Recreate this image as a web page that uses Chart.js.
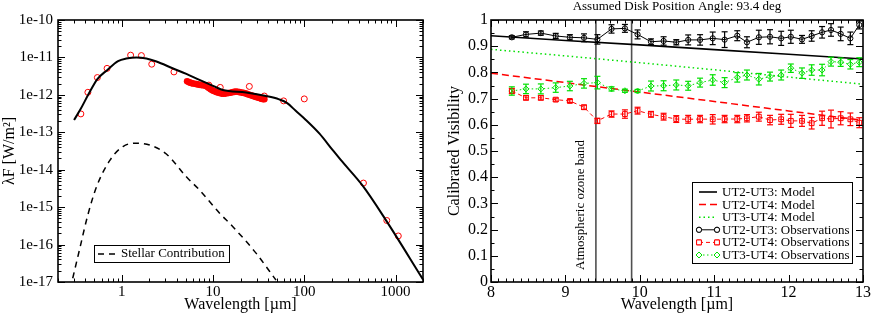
<!DOCTYPE html>
<html><head><meta charset="utf-8">
<script src="https://cdn.jsdelivr.net/npm/chart.js@4.4.1/dist/chart.umd.min.js"></script>
<style>
html,body{margin:0;padding:0;background:#fff;}
#wrap{position:relative;width:872px;height:316px;overflow:hidden;}
canvas{position:absolute;top:0;}
#c1{left:0;} #c2{left:436px;}
</style></head><body>
<div id="wrap"><canvas id="c1" width="436" height="316"></canvas><canvas id="c2" width="436" height="316"></canvas></div>
<script>
// ---------------- LEFT PANEL DATA (SED) ----------------
const sedModelWl   = [0.30, 0.35, 0.43, 0.54, 0.69, 0.91, 1.12, 1.45, 1.86, 2.4, 3.6, 5.1, 7.1, 10, 12.8, 23, 38, 53, 65, 80, 104, 146, 204, 251, 434, 781, 2000];
const sedModelFlux = [2.14e-13, 3.98e-13, 1.02e-12, 2.63e-12, 4.57e-12, 7.94e-12, 9.33e-12, 1.00e-11, 9.33e-12, 7.76e-12, 5.13e-12, 3.63e-12, 2.51e-12, 1.74e-12, 1.35e-12, 1.15e-12, 9.33e-13, 7.59e-13, 6.03e-13, 3.80e-13, 2.14e-13, 9.33e-14, 3.39e-14, 1.82e-14, 3.80e-15, 4.57e-16, 1.17e-17];
const stellarWl    = [0.29, 0.35, 0.42, 0.53, 0.74, 1.03, 1.45, 2.02, 3.08, 5.1, 7.1, 11.8, 16.5, 29.6, 49];
const stellarFlux  = [1.26e-17, 8.7e-17, 5.6e-16, 3.55e-15, 1.78e-14, 4.17e-14, 5.13e-14, 4.57e-14, 2.63e-14, 6.46e-15, 2.88e-15, 6.9e-16, 3.0e-16, 5.9e-17, 1.12e-17];
const photWl       = [0.356, 0.425, 0.54, 0.69, 1.25, 1.64, 2.13, 3.73, 9.0, 12.0, 25, 36.5, 59.4, 100, 445, 802, 1072];
const photFlux     = [3.1e-13, 1.17e-12, 2.9e-12, 5.1e-12, 1.15e-11, 1.12e-11, 6.6e-12, 4.1e-12, 1.82e-12, 1.58e-12, 1.68e-12, 9.3e-13, 6.9e-13, 7.8e-13, 4.4e-15, 4.4e-16, 1.7e-16];
const specWl       = [5.2,5.4,5.6,5.8,6.0,6.3,6.6,6.9,7.2,7.5,7.8,8.1,8.4,8.7,9.0,9.4,9.8,10.2,10.6,11.0,11.5,12.0,12.5,13.0,13.6,14.2,14.8,15.5,16.2,17.0,17.8,18.6,19.5,20.5,21.5,22.5,23.5,24.5,25.5,26.5,27.5,28.5,29.5,30.5,31.5,32.5,33.5,34.5,35.5,36.5];
const specFlux     = [2.30e-12,2.20e-12,2.12e-12,2.06e-12,2.02e-12,1.98e-12,1.93e-12,1.88e-12,1.85e-12,1.82e-12,1.80e-12,1.78e-12,1.72e-12,1.62e-12,1.52e-12,1.42e-12,1.33e-12,1.27e-12,1.22e-12,1.18e-12,1.14e-12,1.10e-12,1.08e-12,1.07e-12,1.08e-12,1.10e-12,1.12e-12,1.14e-12,1.17e-12,1.20e-12,1.22e-12,1.21e-12,1.18e-12,1.15e-12,1.13e-12,1.10e-12,1.06e-12,1.02e-12,0.99e-12,0.96e-12,0.93e-12,0.90e-12,0.88e-12,0.86e-12,0.84e-12,0.82e-12,0.80e-12,0.78e-12,0.77e-12,0.76e-12];
const sedXTicks    = [1, 10, 100, 1000];
const sedYTicks    = [1e-17, 1e-16, 1e-15, 1e-14, 1e-13, 1e-12, 1e-11, 1e-10];

// ---------------- RIGHT PANEL DATA (Visibilities) ----------------
const modelWl   = [8, 9, 10, 11, 12, 13];
const modelUT23 = [0.940, 0.922, 0.905, 0.887, 0.869, 0.851];
const modelUT24 = [0.797, 0.761, 0.725, 0.689, 0.653, 0.617];
const modelUT34 = [0.888, 0.863, 0.837, 0.810, 0.782, 0.755];
const obsWl   = [8.28,8.47,8.67,8.87,9.06,9.25,9.43,9.62,9.80,9.97,10.15,10.32,10.49,10.65,10.81,10.98,11.14,11.31,11.44,11.60,11.75,11.90,12.03,12.18,12.31,12.45,12.57,12.70,12.83,12.95];
const visUT23 = [0.934,0.945,0.950,0.939,0.934,0.932,0.926,0.966,0.968,0.945,0.917,0.920,0.915,0.924,0.924,0.930,0.925,0.940,0.915,0.934,0.936,0.930,0.936,0.926,0.939,0.953,0.962,0.947,0.930,0.981];
const errUT23 = [0.006,0.010,0.008,0.010,0.010,0.015,0.018,0.016,0.015,0.017,0.011,0.016,0.010,0.019,0.020,0.024,0.030,0.019,0.021,0.027,0.027,0.027,0.025,0.015,0.020,0.022,0.024,0.026,0.024,0.015];
const visUT24 = [0.729,0.703,0.703,0.696,0.691,0.667,0.615,0.641,0.641,0.654,0.640,0.631,0.622,0.621,0.622,0.621,0.622,0.622,0.625,0.631,0.618,0.621,0.615,0.615,0.606,0.625,0.622,0.625,0.621,0.608];
const errUT24 = [0.010,0.008,0.008,0.006,0.006,0.008,0.010,0.012,0.016,0.013,0.011,0.013,0.013,0.015,0.014,0.018,0.014,0.014,0.014,0.017,0.018,0.019,0.025,0.021,0.022,0.027,0.034,0.025,0.024,0.019];
const visUT34 = [0.729,0.737,0.737,0.742,0.748,0.758,0.761,0.737,0.730,0.729,0.748,0.749,0.752,0.749,0.761,0.771,0.761,0.781,0.790,0.774,0.784,0.790,0.816,0.797,0.809,0.809,0.841,0.839,0.831,0.839];
const errUT34 = [0.016,0.018,0.019,0.018,0.018,0.018,0.024,0.008,0.006,0.006,0.019,0.019,0.019,0.017,0.017,0.020,0.019,0.018,0.019,0.022,0.017,0.019,0.016,0.020,0.020,0.022,0.017,0.016,0.018,0.017];
const ozoneBand = [9.41, 9.89];
const rightTitle = 'Assumed Disk Position Angle: 93.4 deg';

// ---------------- helpers ----------------
const FONT = "'Liberation Serif', 'Times New Roman', serif";
const zip = (xs, ys) => xs.map((x, i) => ({x, y: ys[i]}));
const GREEN = '#00e000';

function line(ctx, x1, y1, x2, y2) { ctx.beginPath(); ctx.moveTo(x1, y1); ctx.lineTo(x2, y2); ctx.stroke(); }

const frameLogPlugin = {
  id: 'frameLog',
  afterDraw(chart) {
    const {ctx, chartArea: ca, scales} = chart;
    ctx.save();
    ctx.strokeStyle = '#000'; ctx.lineWidth = 1;
    const drawLog = (scale, horiz) => {
      const lo = Math.floor(Math.log10(scale.min) - 1e-9), hi = Math.ceil(Math.log10(scale.max) + 1e-9);
      for (let e = lo; e <= hi; e++) for (let m = 1; m <= 9; m++) {
        const v = m * Math.pow(10, e);
        if (v < scale.min * 0.999 || v > scale.max * 1.001) continue;
        const p = Math.round(scale.getPixelForValue(v)) + 0.5;
        const len = m === 1 ? 7 : 3.5;
        if (horiz) { line(ctx, p, ca.bottom, p, ca.bottom - len); line(ctx, p, ca.top, p, ca.top + len); }
        else { line(ctx, ca.left, p, ca.left + len, p); line(ctx, ca.right, p, ca.right - len, p); }
      }
    };
    drawLog(scales.x, true); drawLog(scales.y, false);
    ctx.lineWidth = 1.6;
    ctx.strokeRect(ca.left, ca.top, ca.right - ca.left, ca.bottom - ca.top);
    // legend
    const lx = 94, ly = 245, lw = 135, lh = 17;
    ctx.fillStyle = '#fff'; ctx.fillRect(lx, ly, lw, lh);
    ctx.lineWidth = 1; ctx.strokeStyle = '#000';
    ctx.strokeRect(lx + 0.5, ly + 0.5, lw, lh);
    const ds = chart.data.datasets[1];
    ctx.lineWidth = ds.borderWidth; ctx.setLineDash(ds.borderDash);
    line(ctx, 98, ly + 9, 118, ly + 9);
    ctx.setLineDash([]);
    ctx.fillStyle = '#000'; ctx.font = '13px ' + FONT; ctx.textBaseline = 'middle'; ctx.textAlign = 'left';
    ctx.fillText(ds.label, 121, ly + 9);
    ctx.restore();
  }
};

const errorBarPlugin = {
  id: 'errBars',
  afterDatasetsDraw(chart) {
    const {ctx, chartArea: ca, scales: {x, y}} = chart;
    ctx.save();
    ctx.beginPath(); ctx.rect(ca.left, ca.top, ca.right - ca.left, ca.bottom - ca.top); ctx.clip();
    chart.data.datasets.forEach(ds => {
      if (!ds.errors) return;
      ctx.strokeStyle = ds.borderColor; ctx.lineWidth = 1.2; ctx.setLineDash([]);
      ds.data.forEach((pt, i) => {
        const px = x.getPixelForValue(pt.x);
        const y1 = y.getPixelForValue(pt.y - ds.errors[i]), y2 = y.getPixelForValue(pt.y + ds.errors[i]);
        line(ctx, px, y1, px, y2);
        line(ctx, px - 3, y1, px + 3, y1);
        line(ctx, px - 3, y2, px + 3, y2);
      });
    });
    ctx.restore();
  }
};

const frameLinPlugin = {
  id: 'frameLin',
  beforeDatasetsDraw(chart) {
    const {ctx, chartArea: ca, scales: {x}} = chart;
    ctx.save();
    ctx.strokeStyle = '#505050'; ctx.lineWidth = 1.6;
    ozoneBand.forEach(v => { const p = x.getPixelForValue(v); line(ctx, p, ca.top, p, ca.bottom); });
    const p0 = x.getPixelForValue(ozoneBand[0]);
    ctx.translate(p0 - 15, ca.bottom - 12);
    ctx.rotate(-Math.PI / 2);
    ctx.fillStyle = '#000'; ctx.font = '13px ' + FONT; ctx.textAlign = 'left'; ctx.textBaseline = 'middle';
    ctx.fillText('Atmospheric ozone band', 0, 0);
    ctx.restore();
  },
  afterDraw(chart) {
    const {ctx, chartArea: ca, scales: {x, y}} = chart;
    ctx.save();
    ctx.strokeStyle = '#000'; ctx.lineWidth = 1;
    for (let k = 0; k <= 50; k++) {
      const v = 8 + k * 0.1; const p = Math.round(x.getPixelForValue(v)) + 0.5;
      const len = k % 10 === 0 ? 7 : 3.5;
      line(ctx, p, ca.bottom, p, ca.bottom - len); line(ctx, p, ca.top, p, ca.top + len);
    }
    for (let k = 0; k <= 20; k++) {
      const v = k * 0.05; const p = Math.round(y.getPixelForValue(v)) + 0.5;
      const len = k % 2 === 0 ? 7 : 3.5;
      line(ctx, ca.left, p, ca.left + len, p); line(ctx, ca.right, p, ca.right - len, p);
    }
    ctx.lineWidth = 1.6;
    ctx.strokeRect(ca.left, ca.top, ca.right - ca.left, ca.bottom - ca.top);
    // title
    ctx.fillStyle = '#000'; ctx.font = '13px ' + FONT; ctx.textAlign = 'center'; ctx.textBaseline = 'middle';
    ctx.fillText(rightTitle, (ca.left + ca.right) / 2, 7);
    // legend
    const lx = 256, ly = 182, lw = 160, lh = 81;
    ctx.fillStyle = '#fff'; ctx.fillRect(lx, ly, lw, lh);
    ctx.lineWidth = 1; ctx.strokeStyle = '#000'; ctx.strokeRect(lx + 0.5, ly + 0.5, lw, lh);
    const order = [0, 1, 2, 3, 4, 5];
    order.forEach((di, r) => {
      const ds = chart.data.datasets[di];
      const cy = ly + 10 + r * 12.6;
      ctx.strokeStyle = ds.borderColor; ctx.lineWidth = ds.borderWidth; ctx.setLineDash(ds.borderDash || []);
      line(ctx, 263, cy, 281, cy);
      ctx.setLineDash([]);
      if (ds.pointRadius > 0) {
        [263, 281].forEach(px => {
          ctx.beginPath();
          ctx.fillStyle = '#fff'; ctx.lineWidth = 1;
          Chart.helpers.drawPoint(ctx, {pointStyle: ds.pointStyle, radius: ds.pointRadius, borderWidth: 1}, px, cy);
          ctx.fill(); ctx.stroke();
        });
      }
      ctx.fillStyle = '#000'; ctx.font = '13px ' + FONT; ctx.textAlign = 'left'; ctx.textBaseline = 'middle';
      ctx.fillText(ds.label, 286, cy + 0.5);
    });
    ctx.restore();
  }
};

Chart.defaults.font.family = FONT;
Chart.defaults.color = '#000';

// ---------------- LEFT CHART ----------------
new Chart(document.getElementById('c1'), {
  type: 'scatter',
  data: { datasets: [
    { label: 'Model', data: zip(sedModelWl, sedModelFlux), showLine: true, borderColor: '#000', borderWidth: 2, pointRadius: 0, cubicInterpolationMode: 'monotone', fill: false },
    { label: 'Stellar Contribution', data: zip(stellarWl, stellarFlux), showLine: true, borderColor: '#000', borderWidth: 1.5, borderDash: [6, 5], pointRadius: 0, cubicInterpolationMode: 'monotone', fill: false },
    { label: 'Photometry', data: zip(photWl, photFlux), showLine: false, pointRadius: 3, pointBorderColor: '#ff0000', pointBackgroundColor: 'rgba(0,0,0,0)', pointBorderWidth: 1 },
    { label: 'Spectrum', data: zip(specWl, specFlux), showLine: false, pointRadius: 3.3, pointBorderColor: '#ff0000', pointBackgroundColor: '#ff0000', pointBorderWidth: 0 }
  ]},
  options: {
    responsive: false, animation: false, events: [],
    layout: { padding: { top: 20, right: 13, left: 0, bottom: 0 } },
    plugins: { legend: { display: false }, tooltip: { enabled: false } },
    scales: {
      x: { type: 'logarithmic', min: 0.2, max: 2000,
        afterBuildTicks: s => { s.ticks = sedXTicks.map(v => ({value: v})); },
        afterFit: s => { s.height = 34; },
        grid: { display: false, drawTicks: false }, border: { display: false },
        ticks: { autoSkip: false, maxRotation: 0, padding: 1, font: { size: 15 }, callback: v => String(v) },
        title: { display: true, text: 'Wavelength [µm]', font: { size: 16 }, padding: { top: 0, bottom: 2 } } },
      y: { type: 'logarithmic', min: 1e-17, max: 1e-10,
        afterBuildTicks: s => { s.ticks = sedYTicks.map(v => ({value: v})); },
        afterFit: s => { s.width = 58; },
        grid: { display: false, drawTicks: false }, border: { display: false },
        ticks: { autoSkip: false, padding: 5, font: { size: 15 }, callback: v => '1e' + Math.round(Math.log10(v)) },
        title: { display: true, text: 'λF [W/m²]', font: { size: 16 }, padding: { top: 0, bottom: 0 } } }
    }
  },
  plugins: [frameLogPlugin]
});

// ---------------- RIGHT CHART ----------------
new Chart(document.getElementById('c2'), {
  type: 'scatter',
  data: { datasets: [
    { label: 'UT2-UT3: Model', data: zip(modelWl, modelUT23), showLine: true, borderColor: '#000', borderWidth: 1.6, pointRadius: 0, order: 2 },
    { label: 'UT2-UT4: Model', data: zip(modelWl, modelUT24), showLine: true, borderColor: '#ff0000', borderWidth: 1.5, borderDash: [7, 4], pointRadius: 0, order: 2 },
    { label: 'UT3-UT4: Model', data: zip(modelWl, modelUT34), showLine: true, borderColor: GREEN, borderWidth: 1.5, borderDash: [1.5, 3], pointRadius: 0, order: 2 },
    { label: 'UT2-UT3: Observations', data: zip(obsWl, visUT23), errors: errUT23, showLine: true, borderColor: '#000', borderWidth: 1, pointStyle: 'circle', pointRadius: 2.6, pointBorderWidth: 1, pointBackgroundColor: 'rgba(255,255,255,0)', pointBorderColor: '#000', order: 1 },
    { label: 'UT2-UT4: Observations', data: zip(obsWl, visUT24), errors: errUT24, showLine: true, borderColor: '#ff0000', borderWidth: 1, borderDash: [4, 3], pointStyle: 'rect', pointRadius: 3.4, pointBorderWidth: 1, pointBackgroundColor: 'rgba(255,255,255,0)', pointBorderColor: '#ff0000', order: 1 },
    { label: 'UT3-UT4: Observations', data: zip(obsWl, visUT34), errors: errUT34, showLine: true, borderColor: GREEN, borderWidth: 1, borderDash: [1.5, 2.5], pointStyle: 'rectRot', pointRadius: 3, pointBorderWidth: 1, pointBackgroundColor: 'rgba(255,255,255,0)', pointBorderColor: GREEN, order: 1 }
  ]},
  options: {
    responsive: false, animation: false, events: [],
    layout: { padding: { top: 20, right: 8, left: 0, bottom: 0 } },
    plugins: { legend: { display: false }, tooltip: { enabled: false } },
    scales: {
      x: { type: 'linear', min: 8, max: 13,
        afterFit: s => { s.height = 34; },
        grid: { display: false, drawTicks: false }, border: { display: false },
        ticks: { stepSize: 1, autoSkip: false, maxRotation: 0, padding: 1, font: { size: 16 } },
        title: { display: true, text: 'Wavelength [µm]', font: { size: 16 }, padding: { top: 0, bottom: 2 } } },
      y: { type: 'linear', min: 0, max: 1,
        afterFit: s => { s.width = 55; },
        grid: { display: false, drawTicks: false }, border: { display: false },
        ticks: { stepSize: 0.1, autoSkip: false, padding: 3, font: { size: 16 }, callback: v => String(Math.round(v * 10) / 10) },
        title: { display: true, text: 'Calibrated Visibility', font: { size: 16 }, padding: { top: 9, bottom: 0 } } }
    }
  },
  plugins: [frameLinPlugin, errorBarPlugin]
});
</script>
</body></html>
